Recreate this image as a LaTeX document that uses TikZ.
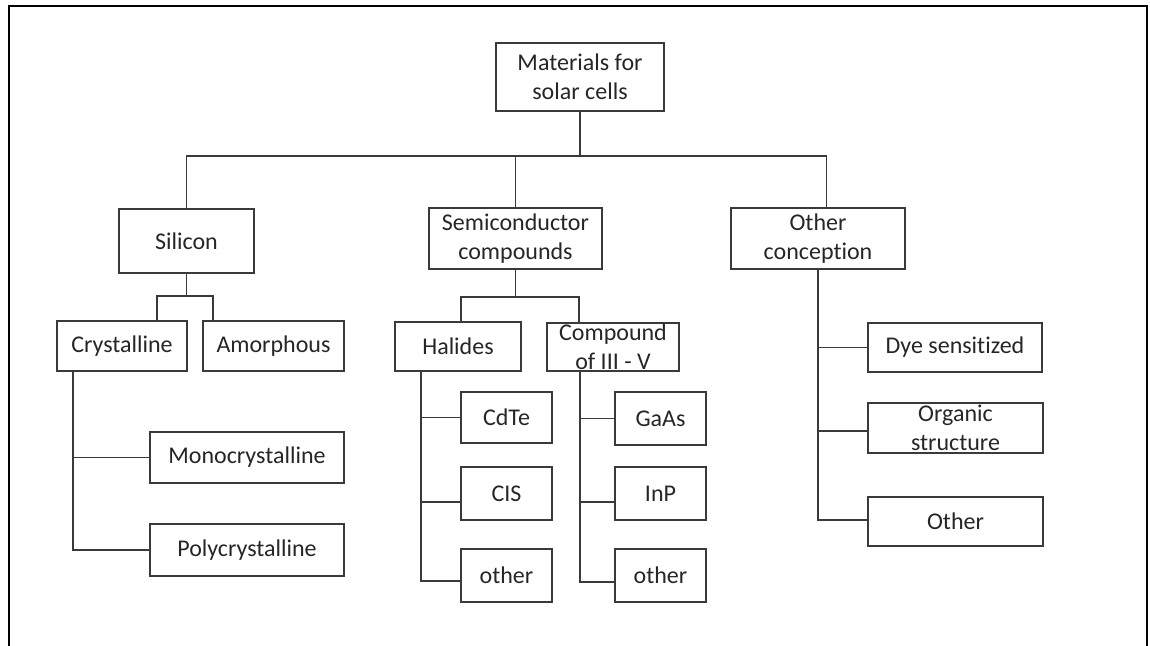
\documentclass[tikz,border=0pt]{standalone}
\usepackage{fontspec}
\setmainfont{Carlito}[Ligatures=NoCommon]
\definecolor{linegray}{HTML}{3A3A3A}
\definecolor{textgray}{HTML}{262626}
\tikzset{
  x=0.5pt, y=-0.5pt,
  catbox/.style={draw=linegray, line width=0.8pt, inner sep=0pt, align=center,
    font=\fontsize{12}{14.5}\selectfont, text=textgray},
  link/.style={draw=linegray, line width=0.8pt},
}
\begin{document}
\begin{tikzpicture}
\useasboundingbox (0,0) rectangle (1150,646);
% outer frame, open at the bottom
\draw[black, line width=1pt] (9,646) -- (9,6) -- (1147,6) -- (1147,646);

% root and first level
\node[catbox, minimum width=84pt, minimum height=34pt] (mat) at (580,77) {Materials for\\solar cells};
\node[catbox, minimum width=67.5pt, minimum height=32pt] (sil) at (186.5,241) {Silicon};
\node[catbox, minimum width=86.5pt, minimum height=30.5pt] (semi) at (515.5,238.5) {Semiconductor\\compounds};
\node[catbox, minimum width=87pt, minimum height=30.5pt] (oth) at (818,238.5) {Other\\conception};

% silicon branch
\node[catbox, minimum width=65pt, minimum height=25pt] (cry) at (122,346) {Crystalline};
\node[catbox, minimum width=70.5pt, minimum height=25pt] (amo) at (273.5,346) {Amorphous};
\node[catbox, minimum width=97pt, minimum height=25.5pt] (mono) at (247,457.5) {Monocrystalline};
\node[catbox, minimum width=97pt, minimum height=26pt] (poly) at (247,550) {Polycrystalline};

% semiconductor branch
\node[catbox, minimum width=63pt, minimum height=24.5pt] (hal) at (458,346.5) {Halides};
\node[catbox, minimum width=66pt, minimum height=24pt] (cmp) at (613,347) {Compound\\of III - V};
\node[catbox, minimum width=45.5pt, minimum height=25.5pt] (cdte) at (506.5,417.5) {CdTe};
\node[catbox, minimum width=45.5pt, minimum height=26.5pt] (cis) at (506.5,493.5) {CIS};
\node[catbox, minimum width=45.5pt, minimum height=26.5pt] (hoth) at (506.5,575.5) {other};
\node[catbox, minimum width=45.5pt, minimum height=26.5pt] (gaas) at (660.5,418.5) {GaAs};
\node[catbox, minimum width=45.5pt, minimum height=26.5pt] (inp) at (660.5,493.5) {InP};
\node[catbox, minimum width=45.5pt, minimum height=26.5pt] (coth) at (660.5,575.5) {other};

% other conceptions branch
\node[catbox, minimum width=87pt, minimum height=24.5pt] (dye) at (955,347.5) {Dye sensitized};
\node[catbox, minimum width=87.5pt, minimum height=25pt] (org) at (955.5,428) {Organic\\structure};
\node[catbox, minimum width=87.5pt, minimum height=24.5pt] (ooth) at (955.5,521.5) {Other};

% attachment points that sit off the box centres
\coordinate (othtop) at ([xshift=4.25pt]oth.north);
\coordinate (cryin) at (157,321);
\coordinate (amoin) at (213,321);
\coordinate (halin) at (461,322);
\coordinate (cmpin) at (579,323);
\coordinate (cryt) at (73,371);
\coordinate (halt) at (421,371);
\coordinate (cmpt) at (580,371);

% top bus
\draw[link] (mat.south) -- (mat.south |- 0,156);
\draw[link] (sil.north) -- (sil.north |- 0,156) -- (othtop |- 0,156) -- (othtop);
\draw[link] (semi.north) -- (semi.north |- 0,156);

% silicon split
\draw[link] (sil.south) -- (sil.south |- 0,296);
\draw[link] (cryin) -- (cryin |- 0,296) -- (amoin |- 0,296) -- (amoin);
\draw[link] (cryt) |- (mono.west);
\draw[link] (cryt) |- (poly.west);

% semiconductor split
\draw[link] (semi.south) -- (semi.south |- 0,297);
\draw[link] (halin) -- (halin |- 0,297) -- (cmpin |- 0,297) -- (cmpin);
\draw[link] (halt) |- (cdte.west);
\draw[link] (halt) |- ([yshift=-4.25pt]cis.west);
\draw[link] (halt) |- ([yshift=-2.75pt]hoth.west);
\draw[link] (cmpt) |- (gaas.west);
\draw[link] (cmpt) |- ([yshift=-4.25pt]inp.west);
\draw[link] (cmpt) |- ([yshift=-3.25pt]coth.west);

% other conceptions
\draw[link] (oth.south) |- (dye.west);
\draw[link] (oth.south) |- ([yshift=-1.5pt]org.west);
\draw[link] (oth.south) |- ([yshift=0.75pt]ooth.west);
\end{tikzpicture}
\end{document}
